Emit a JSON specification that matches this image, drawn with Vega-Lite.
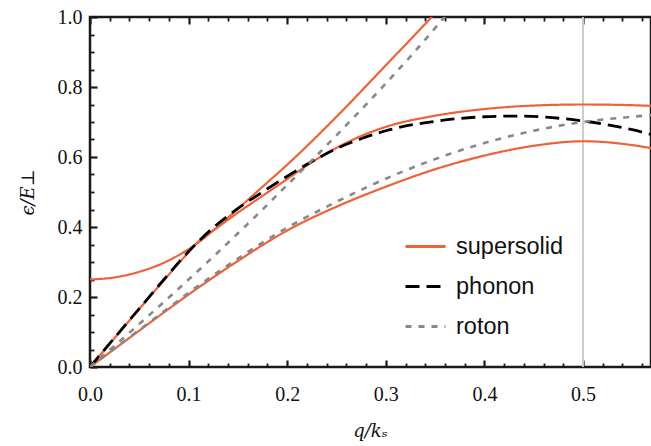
{
  "$schema": "https://vega.github.io/schema/vega-lite/v6.json",
  "width": 561,
  "height": 350,
  "autosize": "none",
  "padding": {"left": 90, "top": 17, "right": 0, "bottom": 79},
  "background": "white",
  "config": {
    "view": {"stroke": "#1a1a1a", "strokeWidth": 2.5},
    "axis": {"grid": false, "labelFont": "Liberation Serif", "labelFontSize": 20, "labelColor": "#111111", "titleColor": "#111111", "labelFlush": false}
  },
  "datasets": {
    "vline": [{"q": 0.5}],
    "curves": [
      {"s": "supersolid", "b": "s1", "q": 0, "e": 0},
      {"s": "supersolid", "b": "s1", "q": 0.025, "e": 0.052},
      {"s": "supersolid", "b": "s1", "q": 0.05, "e": 0.104},
      {"s": "supersolid", "b": "s1", "q": 0.075, "e": 0.156},
      {"s": "supersolid", "b": "s1", "q": 0.1, "e": 0.207},
      {"s": "supersolid", "b": "s1", "q": 0.125, "e": 0.256},
      {"s": "supersolid", "b": "s1", "q": 0.15, "e": 0.303},
      {"s": "supersolid", "b": "s1", "q": 0.2, "e": 0.39},
      {"s": "supersolid", "b": "s1", "q": 0.25, "e": 0.458},
      {"s": "supersolid", "b": "s1", "q": 0.3, "e": 0.515},
      {"s": "supersolid", "b": "s1", "q": 0.35, "e": 0.565},
      {"s": "supersolid", "b": "s1", "q": 0.4, "e": 0.604},
      {"s": "supersolid", "b": "s1", "q": 0.45, "e": 0.632},
      {"s": "supersolid", "b": "s1", "q": 0.5, "e": 0.645},
      {"s": "supersolid", "b": "s1", "q": 0.55, "e": 0.634},
      {"s": "supersolid", "b": "s1", "q": 0.57, "e": 0.625},
      {"s": "supersolid", "b": "s2", "q": 0, "e": 0},
      {"s": "supersolid", "b": "s2", "q": 0.025, "e": 0.083},
      {"s": "supersolid", "b": "s2", "q": 0.05, "e": 0.166},
      {"s": "supersolid", "b": "s2", "q": 0.075, "e": 0.248},
      {"s": "supersolid", "b": "s2", "q": 0.1, "e": 0.328},
      {"s": "supersolid", "b": "s2", "q": 0.107, "e": 0.35},
      {"s": "supersolid", "b": "s2", "q": 0.13, "e": 0.4},
      {"s": "supersolid", "b": "s2", "q": 0.15, "e": 0.441},
      {"s": "supersolid", "b": "s2", "q": 0.175, "e": 0.489},
      {"s": "supersolid", "b": "s2", "q": 0.2, "e": 0.537},
      {"s": "supersolid", "b": "s2", "q": 0.225, "e": 0.585},
      {"s": "supersolid", "b": "s2", "q": 0.25, "e": 0.626},
      {"s": "supersolid", "b": "s2", "q": 0.275, "e": 0.66},
      {"s": "supersolid", "b": "s2", "q": 0.3, "e": 0.686},
      {"s": "supersolid", "b": "s2", "q": 0.35, "e": 0.718},
      {"s": "supersolid", "b": "s2", "q": 0.4, "e": 0.737},
      {"s": "supersolid", "b": "s2", "q": 0.45, "e": 0.747},
      {"s": "supersolid", "b": "s2", "q": 0.5, "e": 0.75},
      {"s": "supersolid", "b": "s2", "q": 0.55, "e": 0.748},
      {"s": "supersolid", "b": "s2", "q": 0.57, "e": 0.746},
      {"s": "supersolid", "b": "s3", "q": 0, "e": 0.25},
      {"s": "supersolid", "b": "s3", "q": 0.025, "e": 0.256},
      {"s": "supersolid", "b": "s3", "q": 0.05, "e": 0.272},
      {"s": "supersolid", "b": "s3", "q": 0.075, "e": 0.298},
      {"s": "supersolid", "b": "s3", "q": 0.095, "e": 0.328},
      {"s": "supersolid", "b": "s3", "q": 0.107, "e": 0.35},
      {"s": "supersolid", "b": "s3", "q": 0.13, "e": 0.402},
      {"s": "supersolid", "b": "s3", "q": 0.15, "e": 0.452},
      {"s": "supersolid", "b": "s3", "q": 0.175, "e": 0.515},
      {"s": "supersolid", "b": "s3", "q": 0.2, "e": 0.578},
      {"s": "supersolid", "b": "s3", "q": 0.25, "e": 0.715},
      {"s": "supersolid", "b": "s3", "q": 0.3, "e": 0.862},
      {"s": "supersolid", "b": "s3", "q": 0.35, "e": 1.01},
      {"s": "supersolid", "b": "s3", "q": 0.36, "e": 1.04},
      {"s": "phonon", "b": "p", "q": 0, "e": 0},
      {"s": "phonon", "b": "p", "q": 0.025, "e": 0.084},
      {"s": "phonon", "b": "p", "q": 0.05, "e": 0.167},
      {"s": "phonon", "b": "p", "q": 0.075, "e": 0.25},
      {"s": "phonon", "b": "p", "q": 0.1, "e": 0.33},
      {"s": "phonon", "b": "p", "q": 0.125, "e": 0.398},
      {"s": "phonon", "b": "p", "q": 0.15, "e": 0.453},
      {"s": "phonon", "b": "p", "q": 0.175, "e": 0.5},
      {"s": "phonon", "b": "p", "q": 0.2, "e": 0.545},
      {"s": "phonon", "b": "p", "q": 0.225, "e": 0.587},
      {"s": "phonon", "b": "p", "q": 0.25, "e": 0.624},
      {"s": "phonon", "b": "p", "q": 0.275, "e": 0.652},
      {"s": "phonon", "b": "p", "q": 0.3, "e": 0.675},
      {"s": "phonon", "b": "p", "q": 0.35, "e": 0.702},
      {"s": "phonon", "b": "p", "q": 0.4, "e": 0.715},
      {"s": "phonon", "b": "p", "q": 0.43, "e": 0.717},
      {"s": "phonon", "b": "p", "q": 0.5, "e": 0.703},
      {"s": "phonon", "b": "p", "q": 0.55, "e": 0.678},
      {"s": "phonon", "b": "p", "q": 0.57, "e": 0.664},
      {"s": "roton", "b": "r1", "q": 0, "e": 0},
      {"s": "roton", "b": "r1", "q": 0.025, "e": 0.053},
      {"s": "roton", "b": "r1", "q": 0.05, "e": 0.106},
      {"s": "roton", "b": "r1", "q": 0.075, "e": 0.159},
      {"s": "roton", "b": "r1", "q": 0.1, "e": 0.212},
      {"s": "roton", "b": "r1", "q": 0.125, "e": 0.262},
      {"s": "roton", "b": "r1", "q": 0.15, "e": 0.31},
      {"s": "roton", "b": "r1", "q": 0.2, "e": 0.398},
      {"s": "roton", "b": "r1", "q": 0.25, "e": 0.472},
      {"s": "roton", "b": "r1", "q": 0.3, "e": 0.538},
      {"s": "roton", "b": "r1", "q": 0.35, "e": 0.594},
      {"s": "roton", "b": "r1", "q": 0.4, "e": 0.64},
      {"s": "roton", "b": "r1", "q": 0.45, "e": 0.675},
      {"s": "roton", "b": "r1", "q": 0.5, "e": 0.7},
      {"s": "roton", "b": "r1", "q": 0.55, "e": 0.715},
      {"s": "roton", "b": "r1", "q": 0.57, "e": 0.72},
      {"s": "roton", "b": "r2", "q": 0, "e": 0},
      {"s": "roton", "b": "r2", "q": 0.025, "e": 0.061},
      {"s": "roton", "b": "r2", "q": 0.05, "e": 0.123},
      {"s": "roton", "b": "r2", "q": 0.075, "e": 0.186},
      {"s": "roton", "b": "r2", "q": 0.1, "e": 0.25},
      {"s": "roton", "b": "r2", "q": 0.125, "e": 0.315},
      {"s": "roton", "b": "r2", "q": 0.15, "e": 0.382},
      {"s": "roton", "b": "r2", "q": 0.175, "e": 0.45},
      {"s": "roton", "b": "r2", "q": 0.2, "e": 0.52},
      {"s": "roton", "b": "r2", "q": 0.225, "e": 0.59},
      {"s": "roton", "b": "r2", "q": 0.25, "e": 0.662},
      {"s": "roton", "b": "r2", "q": 0.3, "e": 0.81},
      {"s": "roton", "b": "r2", "q": 0.35, "e": 0.968},
      {"s": "roton", "b": "r2", "q": 0.37, "e": 1.035}
    ]
  },
  "resolve": {"axis": {"x": "independent", "y": "independent"}},
  "layer": [
    {
      "data": {"name": "vline"},
      "mark": {"type": "rule", "color": "#cccccc", "strokeWidth": 2},
      "encoding": {
        "x": {"field": "q", "type": "quantitative", "scale": {"domain": [0, 0.569], "nice": false, "zero": false},
          "axis": {"orient": "bottom", "values": [0, 0.1, 0.2, 0.3, 0.4, 0.5], "format": ".1f", "domain": false, "tickColor": "#1a1a1a", "tickWidth": 2.2, "tickSize": -7, "labelPadding": 24, "title": "q/kₛ", "titleFont": "DejaVu Serif", "titleFontStyle": "italic", "titleFontWeight": "normal", "titleFontSize": 18, "titleX": 280, "titleY": 64, "titleBaseline": "middle", "titleAlign": "center"}}
      }
    },
    {
      "data": {"name": "curves"},
      "transform": [{"filter": "datum.s === 'supersolid'"}],
      "mark": {"type": "line", "strokeWidth": 2.2, "interpolate": "monotone", "clip": true},
      "encoding": {
        "x": {"field": "q", "type": "quantitative", "scale": {"domain": [0, 0.569], "nice": false, "zero": false},
          "axis": {"orient": "bottom", "values": [0.02, 0.04, 0.06, 0.08, 0.12, 0.14, 0.16, 0.18, 0.22, 0.24, 0.26, 0.28, 0.32, 0.34, 0.36, 0.38, 0.42, 0.44, 0.46, 0.48, 0.52, 0.54, 0.56], "labels": false, "domain": false, "tickColor": "#1a1a1a", "tickWidth": 1.8, "tickSize": -4, "title": null}},
        "y": {"field": "e", "type": "quantitative", "scale": {"domain": [0, 1], "nice": false},
          "axis": {"orient": "left", "values": [0, 0.2, 0.4, 0.6, 0.8, 1.0], "format": ".1f", "domain": false, "tickColor": "#1a1a1a", "tickWidth": 2.2, "tickSize": -7, "labelPadding": 15, "title": "ϵ/E⊥", "titleFont": "DejaVu Serif", "titleFontStyle": "italic", "titleFontWeight": "normal", "titleFontSize": 18, "titleAngle": -90, "titleX": -62, "titleY": 175, "titleBaseline": "middle", "titleAlign": "center"}},
        "detail": {"field": "b"},
        "color": {"field": "s", "type": "nominal", "scale": {"domain": ["supersolid", "phonon", "roton"], "range": ["#ef6237", "#000000", "#888888"]},
          "legend": {"orient": "none", "legendX": 314, "legendY": 208, "title": null, "symbolType": "stroke", "symbolSize": 1600, "symbolStrokeWidth": 2.8, "labelFont": "Liberation Sans", "labelFontSize": 23.5, "labelColor": "#111111", "labelOffset": 9, "rowPadding": 7, "padding": 0}},
        "strokeDash": {"field": "s", "type": "nominal", "scale": {"domain": ["supersolid", "phonon", "roton"], "range": [[1, 0], [14, 7], [6, 7]]},
          "legend": {"orient": "none", "legendX": 314, "legendY": 208, "title": null, "symbolType": "stroke", "symbolSize": 1600, "symbolStrokeWidth": 2.8, "labelFont": "Liberation Sans", "labelFontSize": 23.5, "labelColor": "#111111", "labelOffset": 9, "rowPadding": 7, "padding": 0}}
      }
    },
    {
      "data": {"name": "curves"},
      "transform": [{"filter": "datum.s === 'phonon'"}],
      "mark": {"type": "line", "strokeWidth": 2.8, "interpolate": "monotone", "clip": true},
      "encoding": {
        "x": {"field": "q", "type": "quantitative", "scale": {"domain": [0, 0.569], "nice": false, "zero": false},
          "axis": {"orient": "top", "values": [0, 0.1, 0.2, 0.3, 0.4, 0.5], "labels": false, "domain": false, "tickColor": "#1a1a1a", "tickWidth": 2.2, "tickSize": -7, "title": null}},
        "y": {"field": "e", "type": "quantitative", "scale": {"domain": [0, 1], "nice": false},
          "axis": {"orient": "left", "values": [0.05, 0.1, 0.15, 0.25, 0.3, 0.35, 0.45, 0.5, 0.55, 0.65, 0.7, 0.75, 0.85, 0.9, 0.95], "labels": false, "domain": false, "tickColor": "#1a1a1a", "tickWidth": 1.8, "tickSize": -4, "title": null}},
        "color": {"field": "s", "type": "nominal", "scale": {"domain": ["supersolid", "phonon", "roton"], "range": ["#ef6237", "#000000", "#888888"]}},
        "strokeDash": {"field": "s", "type": "nominal", "scale": {"domain": ["supersolid", "phonon", "roton"], "range": [[1, 0], [14, 7], [6, 7]]}}
      }
    },
    {
      "data": {"name": "curves"},
      "transform": [{"filter": "datum.s === 'roton'"}],
      "mark": {"type": "line", "strokeWidth": 2.6, "interpolate": "monotone", "clip": true},
      "encoding": {
        "x": {"field": "q", "type": "quantitative", "scale": {"domain": [0, 0.569], "nice": false, "zero": false},
          "axis": {"orient": "top", "values": [0.02, 0.04, 0.06, 0.08, 0.12, 0.14, 0.16, 0.18, 0.22, 0.24, 0.26, 0.28, 0.32, 0.34, 0.36, 0.38, 0.42, 0.44, 0.46, 0.48, 0.52, 0.54, 0.56], "labels": false, "domain": false, "tickColor": "#1a1a1a", "tickWidth": 1.8, "tickSize": -4, "title": null}},
        "y": {"field": "e", "type": "quantitative", "scale": {"domain": [0, 1], "nice": false}, "axis": null},
        "detail": {"field": "b"},
        "color": {"field": "s", "type": "nominal", "scale": {"domain": ["supersolid", "phonon", "roton"], "range": ["#ef6237", "#000000", "#888888"]}},
        "strokeDash": {"field": "s", "type": "nominal", "scale": {"domain": ["supersolid", "phonon", "roton"], "range": [[1, 0], [14, 7], [6, 7]]}}
      }
    }
  ]
}
